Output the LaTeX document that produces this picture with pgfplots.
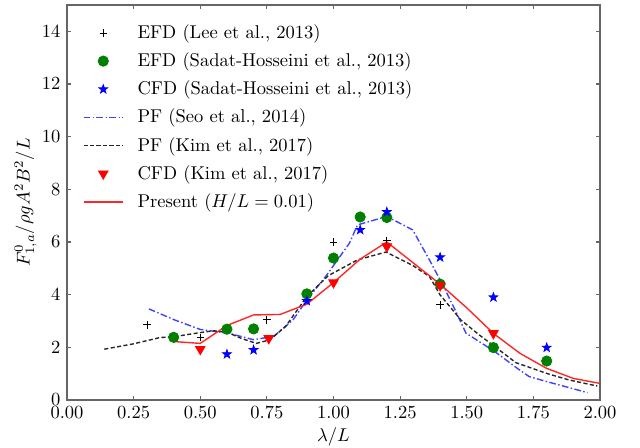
\documentclass[border=0pt]{standalone}
\usepackage{pgfplots}
\pgfplotsset{compat=1.18}
\pgfdeclareplotmark{fstar}{%
  \pgfpathmoveto{\pgfpointpolar{90}{\pgfplotmarksize}}%
  \pgfpathlineto{\pgfpointpolar{126}{0.4\pgfplotmarksize}}%
  \pgfpathlineto{\pgfpointpolar{162}{\pgfplotmarksize}}%
  \pgfpathlineto{\pgfpointpolar{198}{0.4\pgfplotmarksize}}%
  \pgfpathlineto{\pgfpointpolar{234}{\pgfplotmarksize}}%
  \pgfpathlineto{\pgfpointpolar{270}{0.4\pgfplotmarksize}}%
  \pgfpathlineto{\pgfpointpolar{306}{\pgfplotmarksize}}%
  \pgfpathlineto{\pgfpointpolar{342}{0.4\pgfplotmarksize}}%
  \pgfpathlineto{\pgfpointpolar{18}{\pgfplotmarksize}}%
  \pgfpathlineto{\pgfpointpolar{54}{0.4\pgfplotmarksize}}%
  \pgfpathclose
  \pgfusepathqfillstroke}
\definecolor{mplgreen}{rgb}{0,0.5,0}
\definecolor{axgray}{rgb}{0.4,0.4,0.4}
\pgfplotsset{
  linleg/.style={legend image code/.code={\path[draw=none,fill=none] (0cm,0cm) rectangle (0.955cm,0.01cm);\draw[##1] (0cm,0cm) -- (0.75cm,0cm);}},
  markleg/.style={legend image code/.code={\path[draw=none,fill=none] (0cm,0cm) rectangle (0.955cm,0.01cm);\draw[##1] plot coordinates {(0.375cm,0cm)};}},
}
\begin{document}
\begin{tikzpicture}
\useasboundingbox (-36.2pt,-25.9pt) rectangle (309.4pt,216pt);
\begin{axis}[
  scale only axis,
  width=287.8pt, height=213.3pt,
  xmin=0, xmax=2, ymin=0, ymax=15,
  xtick={0,0.25,0.5,0.75,1,1.25,1.5,1.75,2},
  ytick={0,2,4,6,8,10,12,14},
  xticklabel style={/pgf/number format/.cd,fixed,fixed zerofill,precision=2},
  tick align=inside,
  major tick length=2.2pt,
  axis line style={axgray, line width=0.8pt},
  every tick/.style={axgray, line width=0.6pt},
  xlabel={$\lambda/L$},
  ylabel={$F^{0}_{1,a}/\rho g A^2 B^2/L$},
  xlabel style={yshift=2pt},
  ylabel style={yshift=-4pt},
  legend cell align=left,
  legend style={draw=none, fill=none, at={(0.0185,0.97)}, anchor=north west,
    row sep=2.2pt, font=\normalsize},
  linleg,
]
\addplot[only marks, mark=+, mark size=2pt, black, line width=0.5pt, markleg]
  coordinates {(0.3,2.85) (0.5,2.37) (0.75,3.04) (1.0,6.0) (1.2,6.06) (1.4,3.61)};
\addlegendentry{EFD (Lee et al., 2013)}
\addplot[only marks, mark=*, mark size=2.8pt, mplgreen, mark options={fill=mplgreen, draw=mplgreen}, markleg]
  coordinates {(0.4,2.38) (0.6,2.69) (0.7,2.70) (0.9,4.03) (1.0,5.39) (1.1,6.95) (1.2,6.93) (1.4,4.40) (1.6,1.99) (1.8,1.48)};
\addlegendentry{EFD (Sadat-Hosseini et al., 2013)}
\addplot[only marks, mark=fstar, mark size=2.5pt, blue, mark options={fill=blue, draw=blue}, markleg]
  coordinates {(0.6,1.74) (0.7,1.90) (0.9,3.76) (1.1,6.46) (1.2,7.14) (1.4,5.42) (1.6,3.90) (1.8,1.99)};
\addlegendentry{CFD (Sadat-Hosseini et al., 2013)}
\addplot[blue!75!white, line width=0.75pt, dash pattern=on 3.6pt off 1.3pt on 0.8pt off 1.3pt]
  coordinates {(0.307,3.46) (0.404,3.04) (0.5,2.68) (0.604,2.54) (0.70,2.29) (0.776,2.42) (0.848,3.04) (0.90,3.80) (0.975,4.75) (1.06,5.96) (1.09,6.65) (1.20,6.97) (1.297,6.46) (1.36,5.32) (1.41,4.37) (1.453,3.49) (1.497,2.54) (1.605,1.84) (1.69,1.20) (1.734,0.89) (1.80,0.70) (1.953,0.28)};
\addlegendentry{PF (Seo et al., 2014)}
\addplot[black!85, line width=0.75pt, dash pattern=on 2.2pt off 1.3pt]
  coordinates {(0.14,1.93) (0.248,2.13) (0.348,2.37) (0.404,2.41) (0.50,2.56) (0.55,2.63) (0.604,2.56) (0.654,2.34) (0.71,2.15) (0.76,2.28) (0.82,2.79) (0.90,3.93) (0.98,4.72) (1.09,5.32) (1.197,5.62) (1.297,5.11) (1.36,4.69) (1.40,3.99) (1.478,3.04) (1.547,2.47) (1.605,2.03) (1.684,1.42) (1.80,1.01) (1.884,0.76) (1.99,0.53)};
\addlegendentry{PF (Kim et al., 2017)}
\addplot[only marks, mark=triangle*, mark size=3pt, red, mark options={fill=red, draw=red, rotate=180}, markleg]
  coordinates {(0.5,1.93) (0.757,2.34) (1.0,4.46) (1.2,5.83) (1.4,4.35) (1.6,2.53)};
\addlegendentry{CFD (Kim et al., 2017)}
\addplot[red!85!white, line width=0.75pt]
  coordinates {(0.4,2.22) (0.5,2.15) (0.6,2.83) (0.7,3.23) (0.8,3.25) (0.9,3.64) (1.0,4.46) (1.1,5.35) (1.2,6.0) (1.3,5.2) (1.4,4.40) (1.5,3.5) (1.6,2.53) (1.7,1.77) (1.8,1.20) (1.9,0.82) (2.0,0.63)};
\addlegendentry{Present ($H/L=0.01$)}
\end{axis}
\end{tikzpicture}
\end{document}
